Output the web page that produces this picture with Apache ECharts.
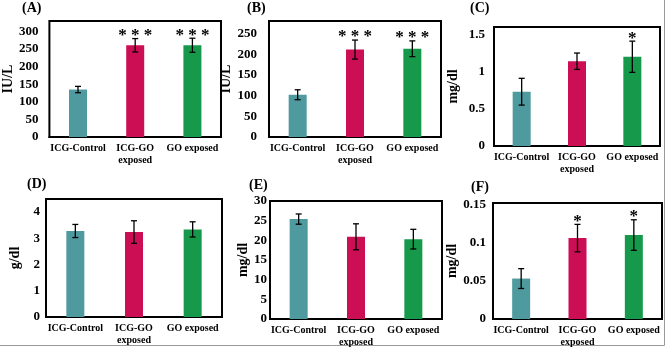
<!DOCTYPE html>
<html>
<head>
<meta charset="utf-8">
<script src="https://cdn.jsdelivr.net/npm/echarts@6/dist/echarts.min.js"></script>
<style>
  html, body { margin: 0; padding: 0; background: #fff; }
  #chart { width: 666px; height: 349px; }
</style>
</head>
<body>
<div id="chart"></div>
<script>
// groups on every panel
var categories = ['ICG-Control', 'ICG-GO\nexposed', 'GO exposed'];
var panelTags = ['(A)', '(B)', '(C)', '(D)', '(E)', '(F)'];
var units = ['IU/L', 'IU/L', 'mg/dl', 'g/dl', 'mg/dl', 'mg/dl'];

// mean values per panel
var meansA = [135, 261, 261];
var meansB = [102, 211, 213];
var meansC = [0.73, 1.14, 1.2];
var meansD = [3.28, 3.24, 3.34];
var meansE = [25.4, 20.9, 20.3];
var meansF = [0.053, 0.106, 0.11];
var means = [meansA, meansB, meansC, meansD, meansE, meansF];

// error bar half lengths
var errA = [9, 19, 20];
var errB = [12, 23, 19];
var errC = [0.18, 0.11, 0.21];
var errD = [0.25, 0.43, 0.29];
var errE = [1.3, 3.3, 2.5];
var errF = [0.013, 0.018, 0.02];
var errs = [errA, errB, errC, errD, errE, errF];

// significance marks
var stars = [
  ['', '***', '***'],
  ['', '***', '***'],
  ['', '', '*'],
  ['', '', ''],
  ['', '', ''],
  ['', '*', '*']
];

// y axis: top of the box and tick step
var yMax = [330, 280, 1.6, 4.5, 30, 0.152];
var yStep = [50, 50, 0.5, 1, 5, 0.05];

var colors = ['#4e9a9e', '#cc0e55', '#17994b'];
var serif = '"Liberation Serif", "Times New Roman", serif';

// panel boxes [left, top, width, height]
var boxes = [
  [47, 21, 174, 116],
  [269, 21, 172, 116],
  [494, 27, 166, 119],
  [46, 199, 176, 118],
  [270, 201, 172, 118],
  [493, 203, 169, 116]
];
var tagPos = [[22, 1], [247, 1], [470, 1], [27, 177], [249, 178], [471, 180]];
var nameGaps = [29, 32, 34, 24, 18, 33];
var labelMargins = [11, 12, 9, 6, 3, 7];

function onTick(max, step) {
  var r = max / step;
  return Math.abs(r - Math.round(r)) < 1e-6;
}

function errorBars(p) {
  return function (params, api) {
    var i = api.value(0);
    var hi = api.coord([i, api.value(2)]);
    var lo = api.coord([i, api.value(1)]);
    var x = hi[0], cap = 3;
    var st = {stroke: '#000', lineWidth: 1.3};
    var kids = [
      {type: 'line', shape: {x1: x, y1: hi[1], x2: x, y2: lo[1]}, style: st},
      {type: 'line', shape: {x1: x - cap, y1: hi[1], x2: x + cap, y2: hi[1]}, style: st},
      {type: 'line', shape: {x1: x - cap, y1: lo[1], x2: x + cap, y2: lo[1]}, style: st}
    ];
    var s = stars[p][params.dataIndex];
    if (s) {
      kids.push({
        type: 'text', x: x, y: hi[1] - 3,
        style: {text: s.split('').join(' '), align: 'center', verticalAlign: 'middle',
          font: 'bold 17px ' + serif, fill: '#000'}
      });
    }
    return {type: 'group', children: kids};
  };
}

var grid = [], xAxis = [], yAxis = [], series = [], title = [];
for (var p = 0; p < 6; p++) {
  var b = boxes[p];
  grid.push({
    left: b[0], top: b[1], width: b[2], height: b[3],
    show: true, borderColor: '#000', borderWidth: 2
  });
  title.push({
    text: panelTags[p], left: tagPos[p][0], top: tagPos[p][1], padding: 0,
    textStyle: {fontFamily: serif, fontWeight: 'bold', fontSize: 14, color: '#000'}
  });
  xAxis.push({
    type: 'category', gridIndex: p, data: categories,
    axisLine: {lineStyle: {color: '#000', width: 2}},
    axisTick: {show: false},
    axisLabel: {color: '#000', fontFamily: serif, fontWeight: 'bold', fontSize: 10,
      lineHeight: 12, margin: 5, interval: 0}
  });
  yAxis.push({
    type: 'value', gridIndex: p, min: 0, max: yMax[p], interval: yStep[p],
    name: units[p], nameLocation: 'middle', nameGap: nameGaps[p],
    nameTextStyle: {fontFamily: serif, fontWeight: 'bold', fontSize: 14, color: '#000'},
    axisLine: {show: false}, axisTick: {show: false}, splitLine: {show: false},
    axisLabel: {color: '#000', fontFamily: serif, fontWeight: 'bold', fontSize: 13,
      margin: labelMargins[p], showMaxLabel: onTick(yMax[p], yStep[p])}
  });
  series.push({
    type: 'bar', xAxisIndex: p, yAxisIndex: p, barWidth: 18,
    data: means[p].map(function (v, i) {
      return {value: v, itemStyle: {color: colors[i]}};
    })
  });
  series.push({
    type: 'custom', xAxisIndex: p, yAxisIndex: p, z: 5,
    renderItem: errorBars(p),
    data: means[p].map(function (v, i) {
      return [i, v - errs[p][i], v + errs[p][i]];
    })
  });
}

var option = {
  animation: false,
  backgroundColor: '#fff',
  title: title,
  grid: grid,
  xAxis: xAxis,
  yAxis: yAxis,
  series: series,
  graphic: [
    {type: 'line', shape: {x1: 664.5, y1: 0, x2: 664.5, y2: 345.5}, style: {stroke: '#999', lineWidth: 1}},
    {type: 'line', shape: {x1: 0, y1: 345.5, x2: 664.5, y2: 345.5}, style: {stroke: '#999', lineWidth: 1}}
  ]
};
var myChart = echarts.init(document.getElementById('chart'));
myChart.setOption(option);
</script>
</body>
</html>
